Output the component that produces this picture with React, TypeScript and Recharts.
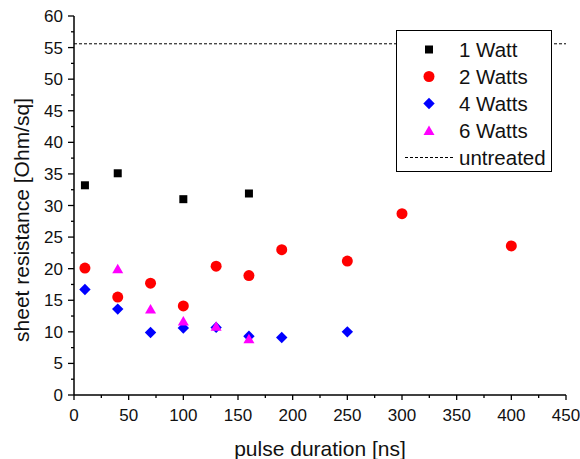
import { ScatterChart, Scatter, XAxis, YAxis, ReferenceLine, Legend } from 'recharts'

const xTicks = [0, 25, 50, 75, 100, 125, 150, 175, 200, 225, 250, 275, 300, 325, 350, 375, 400, 425, 450]
const yTicks = [0, 2.5, 5, 7.5, 10, 12.5, 15, 17.5, 20, 22.5, 25, 27.5, 30, 32.5, 35, 37.5, 40, 42.5, 45, 47.5, 50, 52.5, 55, 57.5, 60]

const durations1 = [10, 40, 100, 160]
const watt1 = [33.2, 35.1, 31.0, 31.9]
const durations2 = [10, 40, 70, 100, 130, 160, 190, 250, 300, 400]
const watt2 = [20.1, 15.5, 17.7, 14.1, 20.4, 18.9, 23.0, 21.2, 28.7, 23.6]
const durations4 = [10, 40, 70, 100, 130, 160, 190, 250]
const watt4 = [16.7, 13.6, 9.9, 10.6, 10.7, 9.3, 9.1, 10.0]
const durations6 = [40, 70, 100, 130, 160]
const watt6 = [20.0, 13.6, 11.7, 10.9, 8.9]
const untreated = 55.6

const toPoints = (xs: number[], ys: number[]) => xs.map((x, i) => ({ x, y: ys[i] }))

const font = 'Arial, "Liberation Sans", sans-serif'

const Square = (p: any) => <rect x={p.cx - 4} y={p.cy - 4} width={8} height={8} fill="#000" />
const Dot = (p: any) => <circle cx={p.cx} cy={p.cy} r={5.5} fill="#ff0000" />
const Diamond = (p: any) => (
  <polygon points={`${p.cx},${p.cy - 5.7} ${p.cx + 5.7},${p.cy} ${p.cx},${p.cy + 5.7} ${p.cx - 5.7},${p.cy}`} fill="#0000ff" />
)
const Triangle = (p: any) => (
  <polygon points={`${p.cx},${p.cy - 5} ${p.cx + 5.5},${p.cy + 4.5} ${p.cx - 5.5},${p.cy + 4.5}`} fill="#ff00ff" />
)

const isMajor = (v: number, step: number) => Math.abs(v / step - Math.round(v / step)) < 1e-6

// custom ticks: long ticks with labels on majors, short ones between
const BottomTick = (p: any) => {
  const v = p.payload.value
  const major = isMajor(v, 50)
  return (
    <g>
      <line x1={p.x} x2={p.x} y1={p.y} y2={p.y + (major ? 5 : 3)} stroke="#000" strokeWidth={1.3} />
      {major && (
        <text x={p.x} y={p.y + 26} textAnchor="middle" fontSize={17} fontFamily={font} fill="#111">
          {v}
        </text>
      )}
    </g>
  )
}

const TopTick = (p: any) => {
  const major = isMajor(p.payload.value, 50)
  return <line x1={p.x} x2={p.x} y1={p.y} y2={p.y + (major ? 6 : 3)} stroke="#000" strokeWidth={1.3} />
}

const LeftTick = (p: any) => {
  const v = p.payload.value
  const major = isMajor(v, 5)
  return (
    <g>
      <line x1={p.x} x2={p.x - (major ? 6 : 3)} y1={p.y} y2={p.y} stroke="#000" strokeWidth={1.3} />
      {major && (
        <text x={p.x - 11} y={p.y + 6} textAnchor="end" fontSize={17} fontFamily={font} fill="#111">
          {v}
        </text>
      )}
    </g>
  )
}

const RightTick = (p: any) => {
  const major = isMajor(p.payload.value, 5)
  return <line x1={p.x} x2={p.x - (major ? 6 : 3)} y1={p.y} y2={p.y} stroke="#000" strokeWidth={1.3} />
}

const legendRows = [
  { name: '1 Watt', Icon: Square },
  { name: '2 Watts', Icon: Dot },
  { name: '4 Watts', Icon: Diamond },
  { name: '6 Watts', Icon: Triangle },
]

const LegendBox = () => (
  <div
    style={{
      border: '1px solid #000',
      background: '#fff',
      width: 154,
      height: 140,
      boxSizing: 'content-box',
      fontFamily: font,
      fontSize: 20.5,
      color: '#111',
    }}
  >
    {legendRows.map(({ name, Icon }, i) => (
      <div key={name} style={{ display: 'flex', alignItems: 'center', height: 27, marginTop: i === 0 ? 5 : 0 }}>
        <svg width={60} height={27}>
          <Icon cx={32} cy={13.5} />
        </svg>
        <span style={{ marginLeft: 2 }}>{name}</span>
      </div>
    ))}
    <div style={{ display: 'flex', alignItems: 'center', height: 27 }}>
      <svg width={60} height={27}>
        <line x1={8} x2={56} y1={13.5} y2={13.5} stroke="#000" strokeDasharray="3 2" />
      </svg>
      <span style={{ marginLeft: 2 }}>untreated</span>
    </div>
  </div>
)

export default function App() {
  return (
    <div style={{ position: 'absolute', left: 0, top: 0, background: '#fff' }}>
      <ScatterChart width={580} height={459} margin={{ top: 16, right: 14, bottom: 0, left: 0 }}>
        <XAxis
          xAxisId="minor-top"
          orientation="top"
          type="number"
          dataKey="x"
          domain={[0, 450]}
          ticks={xTicks}
          height={0}
          tickSize={0}
          tickMargin={0}
          tickLine={false}
          tick={<TopTick />}
          axisLine={{ stroke: '#000', strokeWidth: 1.5 }}
        />
        <XAxis
          type="number"
          dataKey="x"
          domain={[0, 450]}
          ticks={xTicks}
          height={64}
          tickSize={0}
          tickMargin={0}
          tickLine={false}
          tick={<BottomTick />}
          interval={0}
          axisLine={{ stroke: '#000', strokeWidth: 1.5 }}
          label={{
            content: () => (
              <text x={320} y={456} textAnchor="middle" fontSize={21} fontFamily={font} fill="#111">
                pulse duration [ns]
              </text>
            ),
          }}
        />
        <YAxis
          type="number"
          dataKey="y"
          domain={[0, 60]}
          ticks={yTicks}
          width={74}
          tickSize={0}
          tickMargin={0}
          tickLine={false}
          tick={<LeftTick />}
          interval={0}
          axisLine={{ stroke: '#000', strokeWidth: 1.5 }}
          label={{
            content: () => (
              <text
                x={29}
                y={220}
                transform="rotate(-90 29 220)"
                textAnchor="middle"
                fontSize={21}
                fontFamily={font}
                fill="#111"
              >
                sheet resistance [Ohm/sq]
              </text>
            ),
          }}
        />
        <YAxis
          yAxisId="minor-right"
          orientation="right"
          type="number"
          dataKey="y"
          domain={[0, 60]}
          ticks={yTicks}
          width={0}
          tickSize={0}
          tickMargin={0}
          tickLine={false}
          tick={<RightTick />}
          interval={0}
          axisLine={{ stroke: '#000', strokeWidth: 1.5 }}
        />
        <ReferenceLine y={untreated} stroke="#000" strokeDasharray="3 2" strokeWidth={1} />
        <Scatter name="1 Watt" data={toPoints(durations1, watt1)} shape={Square} isAnimationActive={false} />
        <Scatter name="2 Watts" data={toPoints(durations2, watt2)} shape={Dot} isAnimationActive={false} />
        <Scatter name="4 Watts" data={toPoints(durations4, watt4)} shape={Diamond} isAnimationActive={false} />
        <Scatter name="6 Watts" data={toPoints(durations6, watt6)} shape={Triangle} isAnimationActive={false} />
        <Legend
          layout="vertical"
          align="center"
          verticalAlign="middle"
          content={<LegendBox />}
          wrapperStyle={{ left: 396, top: 30, width: 156, height: 142 }}
        />
      </ScatterChart>
    </div>
  )
}
